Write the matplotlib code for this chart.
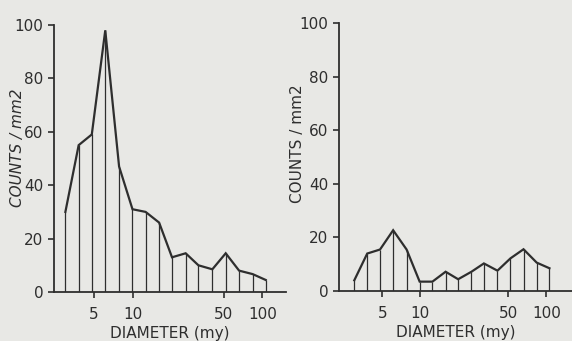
import matplotlib
matplotlib.use("Agg")
import matplotlib.pyplot as plt
from matplotlib.ticker import FixedLocator, NullLocator

# particle diameter classes (my)
diameter = [3.0, 3.8, 4.8, 6.1, 7.8, 9.9, 12.5, 15.9, 20, 25.5, 32, 41, 52, 66, 84, 106]

# counts / mm2, left panel and right panel
counts_left = [30, 55, 59, 98, 47, 31, 30, 26, 13, 14.5, 10, 8.5, 14.5, 8, 6.7, 4.5]
counts_right = [4, 14, 15.5, 22.7, 15.5, 3.5, 3.5, 7.2, 4.4, 7.2, 10.3, 7.6, 12.2, 15.6, 10.6, 8.5]

x_ticks = [5, 10, 50, 100]
x_tick_labels = ["5", "10", "50", "100"]
y_ticks = [0, 20, 40, 60, 80, 100]

paper = "#e8e8e5"
ink = "#2e2e2e"

plt.rcParams["font.family"] = ["DejaVu Sans"]

fig = plt.figure(figsize=(5.72, 3.41), dpi=100, facecolor=paper)


def draw_panel(ax, values, xlim, italic_label, label_xy):
    ax.set_facecolor("none")
    ax.vlines(diameter, 0, values, color=ink, lw=0.9)
    ax.plot(diameter, values, color=ink, lw=1.6, solid_joinstyle="miter")
    ax.set_xscale("log")
    ax.set_xlim(*xlim)
    ax.set_ylim(0, 100)
    ax.xaxis.set_major_locator(FixedLocator(x_ticks))
    ax.xaxis.set_minor_locator(NullLocator())
    ax.set_xticklabels(x_tick_labels)
    ax.set_yticks(y_ticks)
    for side in ("top", "right"):
        ax.spines[side].set_visible(False)
    for side in ("left", "bottom"):
        ax.spines[side].set_color(ink)
        ax.spines[side].set_linewidth(1.3)
    ax.tick_params(axis="both", colors=ink, labelcolor=ink, labelsize=11,
                   length=4.5, width=1.2, direction="out")
    ax.tick_params(axis="x", pad=6)
    ax.tick_params(axis="y", pad=3)
    ax.set_xlabel("DIAMETER (my)", fontsize=11, color=ink, labelpad=3)
    ax.set_ylabel("COUNTS / mm2", fontsize=11, color=ink,
                  style="italic" if italic_label else "normal")
    ax.yaxis.set_label_coords(*label_xy)


ax1 = fig.add_axes([0.0944, 0.1437, 0.4056, 0.783])
draw_panel(ax1, counts_left, (2.45, 152), True, (-0.125, 0.54))

ax2 = fig.add_axes([0.5927, 0.1466, 0.4073, 0.785])
draw_panel(ax2, counts_right, (2.27, 160), False, (-0.145, 0.55))

fig.savefig("out.png", dpi=100, facecolor=paper)
